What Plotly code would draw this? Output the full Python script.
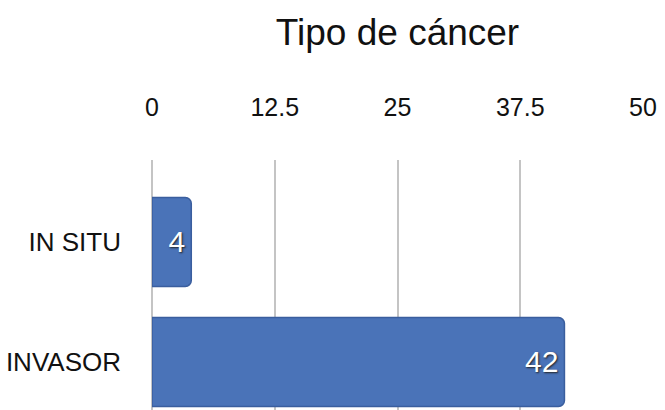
import plotly.graph_objects as go

# Tipo de cáncer: número de casos por categoría
categorias = ["IN SITU", "INVASOR"]
casos = [4, 42]
ticks_x = [0, 12.5, 25, 37.5, 50]
ticks_x_texto = ["0", "12.5", "25", "37.5", "50"]

FUENTE = "Liberation Sans, Arial, sans-serif"

fig = go.Figure(
    go.Bar(
        x=casos,
        y=categorias,
        orientation="h",
        width=0.74,
        marker=dict(color="#4A73B8", line=dict(color="#3A5E9E", width=1.5), cornerradius=6),
        text=[str(v) for v in casos],
        textposition="inside",
        insidetextanchor="end",
        textfont=dict(family=FUENTE, size=30, color="white", shadow="1px 1px 2px #222"),
        cliponaxis=False,
    )
)

fig.update_layout(
    width=665,
    height=410,
    margin=dict(l=152, r=22, t=160, b=0),
    paper_bgcolor="white",
    plot_bgcolor="white",
    showlegend=False,
    title=dict(
        text="Tipo de cáncer",
        x=0.5,
        xref="paper",
        y=1 - 32 / 410,
        yanchor="middle",
        font=dict(family=FUENTE, size=37, color="#111"),
    ),
    xaxis=dict(
        side="top",
        range=[0, 50],
        tickvals=ticks_x,
        ticktext=ticks_x_texto,
        showgrid=True,
        gridcolor="#C4C4C4",
        gridwidth=2,
        zeroline=True,
        zerolinecolor="#C4C4C4",
        zerolinewidth=2,
        showline=False,
        ticks="",
        ticklabelstandoff=38,
        tickfont=dict(family=FUENTE, size=25, color="#111"),
    ),
    yaxis=dict(
        type="category",
        categoryorder="array",
        categoryarray=categorias,
        range=[1.4, -0.683],
        showgrid=False,
        zeroline=False,
        showline=False,
        ticks="",
        ticklabelstandoff=30,
        tickfont=dict(family=FUENTE, size=26, color="#111"),
    ),
)

fig.write_html("out.html")
